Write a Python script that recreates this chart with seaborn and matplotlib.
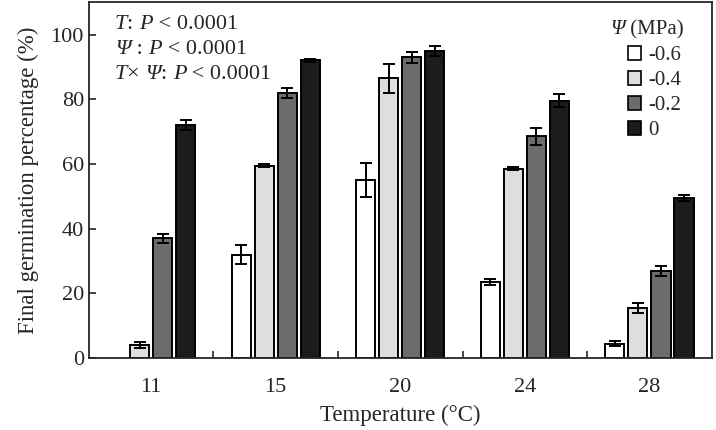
import numpy as np
import pandas as pd
import seaborn as sns
import matplotlib.pyplot as plt
from matplotlib.ticker import FixedLocator

# Data.
temperatures = ["11", "15", "20", "24", "28"]
psi_levels = ["-0.6", "-0.4", "-0.2", "0"]
germ_m06 = [0.0, 32.0, 55.0, 23.5, 4.5]
germ_m04 = [4.0, 59.5, 86.5, 58.5, 15.5]
germ_m02 = [37.0, 82.0, 93.0, 68.5, 27.0]
germ_0 = [72.0, 92.0, 95.0, 79.5, 49.5]
err_m06 = [0.0, 3.0, 5.3, 1.0, 0.7]
err_m04 = [1.0, 0.5, 4.5, 0.5, 1.5]
err_m02 = [1.5, 1.5, 1.7, 2.5, 1.5]
err_0 = [1.5, 0.5, 1.5, 2.0, 1.0]
bar_colors = ["#ffffff", "#dedede", "#6c6c6c", "#1c1c1c"]

means = [germ_m06, germ_m04, germ_m02, germ_0]
errs = [err_m06, err_m04, err_m02, err_0]

rows = []
for psi, vals in zip(psi_levels, means):
    for t, v in zip(temperatures, vals):
        rows.append({"Temperature": t, "Psi": psi, "Germination": v})
df = pd.DataFrame(rows)

sns.set_style("ticks")
plt.rcParams["font.family"] = ["Liberation Serif", "DejaVu Serif"]


# Write a line made of pieces in normal / italic style.
def mixed_text(ax, x, y, pieces, size):
    prev = None
    for s, style in pieces:
        if prev is None:
            prev = ax.text(x, y, s, transform=ax.transAxes, fontsize=size,
                           fontstyle=style, va="center", ha="left")
        else:
            prev = ax.annotate(s, xy=(1, 0), xycoords=prev, fontsize=size,
                               fontstyle=style, va="bottom", ha="left")
    return prev


fig = plt.figure(figsize=(7.16, 4.3), dpi=100)
ax = fig.add_axes([0.124, 0.167, 0.870, 0.828])

sns.barplot(
    data=df, x="Temperature", y="Germination", hue="Psi",
    order=temperatures, hue_order=psi_levels, palette=bar_colors,
    width=0.74, gap=0.17, errorbar=None, edgecolor="black",
    linewidth=1.4, legend=False, ax=ax,
)

# Error bars on each bar.
for cont, err in zip(ax.containers, errs):
    for bar, e in zip(cont, err):
        if bar.get_height() <= 0:
            bar.set_visible(False)
            continue
        x = bar.get_x() + bar.get_width() / 2
        ax.errorbar(x, bar.get_height(), yerr=e, color="black",
                    capsize=4, elinewidth=1.4, capthick=1.4, lw=0)

ax.set_xlim(-0.5, 4.5)
ax.set_ylim(0, 110)
ax.set_yticks([0, 20, 40, 60, 80, 100])
ax.tick_params(axis="y", direction="in", length=5, width=1.2, labelsize=16)
ax.tick_params(axis="x", length=0, labelsize=16, pad=14)
ax.xaxis.set_minor_locator(FixedLocator([0.5, 1.5, 2.5, 3.5]))
ax.tick_params(axis="x", which="minor", direction="in", length=5, width=1.2)
for s in ax.spines.values():
    s.set_linewidth(1.3)

ax.set_xlabel("Temperature (°C)", fontsize=16.5, labelpad=6)
ax.set_ylabel("Final germination percentage (%)", fontsize=16.5, labelpad=8)

# Significance text.
stats = [
    [("T", "italic"), (": ", "normal"), ("P", "italic"), (" < 0.0001", "normal")],
    [("Ψ", "italic"), (" : ", "normal"), ("P", "italic"), (" < 0.0001", "normal")],
    [("T", "italic"), ("× ", "normal"), ("Ψ", "italic"), (": ", "normal"),
     ("P", "italic"), (" < 0.0001", "normal")],
]
for i, pieces in enumerate(stats):
    mixed_text(ax, 0.042, 0.938 - i * 0.07, pieces, 16)

# Legend with a hand-made title.
handles = [plt.Rectangle((0, 0), 1, 1, facecolor=c, edgecolor="black", lw=1.2)
           for c in bar_colors]
ax.legend(handles, psi_levels, loc="upper left", bbox_to_anchor=(0.865, 0.877),
          frameon=False, fontsize=15, handlelength=0.65, handleheight=0.65,
          handletextpad=0.35, labelspacing=0.27, borderpad=0, borderaxespad=0)
mixed_text(ax, 0.838, 0.922, [("Ψ", "italic"), (" (MPa)", "normal")], 15)

fig.savefig("out.png", dpi=100)
